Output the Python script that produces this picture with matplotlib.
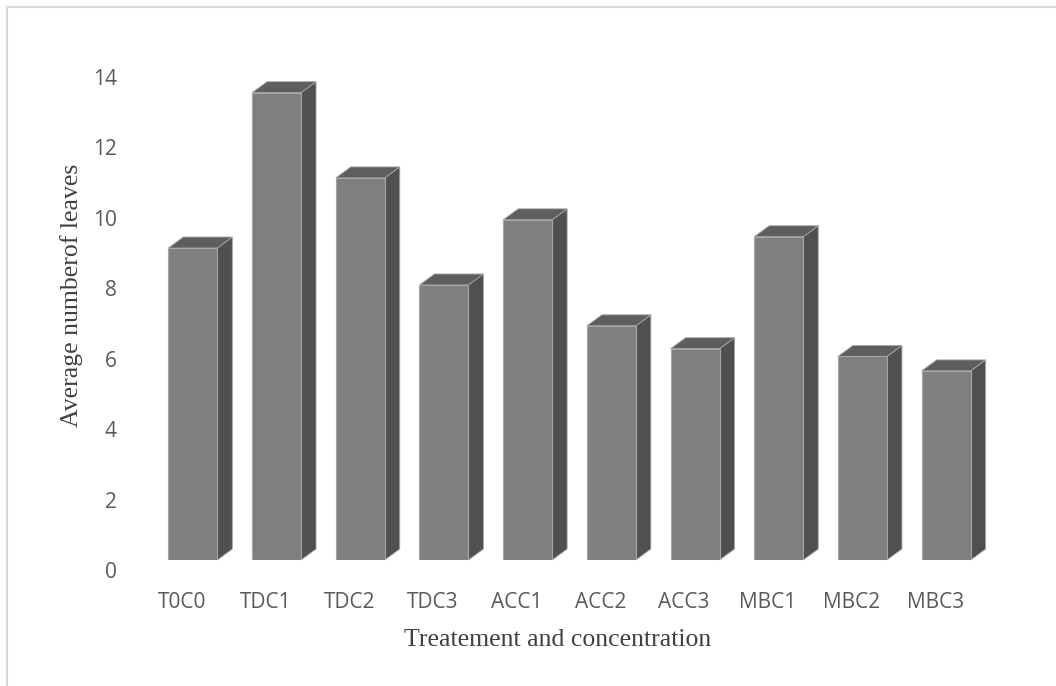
import numpy as np
import matplotlib.pyplot as plt
from matplotlib.patches import Polygon
from matplotlib.lines import Line2D
import matplotlib.transforms as mtransforms

categories = ['T0C0', 'TDC1', 'TDC2', 'TDC3', 'ACC1', 'ACC2', 'ACC3', 'MBC1', 'MBC2', 'MBC3']
leaves = [8.86, 13.27, 10.85, 7.81, 9.66, 6.65, 6.0, 9.18, 5.78, 5.37]
y_ticks = [0, 2, 4, 6, 8, 10, 12, 14]

W, H = 1056, 686
fig = plt.figure(figsize=(W / 100, H / 100), dpi=100)
ax = fig.add_axes([151 / W, 126 / H, 837 / W, 493 / H])
ax.set_xlim(-0.5, len(categories) - 0.5)
ax.set_ylim(0, 14)

front = '#7f7f7f'
side = '#505050'
top = '#5e5e5e'
edge = '#a6a6a6'
bw = 0.585

# depth of the fake 3d bars, in pixels -> data units
px_x = 837 / len(categories)
px_y = 493 / 14
dx = 15 / px_x
dy = 11 / px_y

x = np.arange(len(categories))
ax.bar(x, leaves, width=bw, color=front, edgecolor=edge, linewidth=0.8, zorder=3)
for xi, v in zip(x, leaves):
    r = xi + bw / 2
    l = xi - bw / 2
    ax.add_patch(Polygon([(r, 0), (r + dx, dy), (r + dx, v + dy), (r, v)],
                         closed=True, facecolor=side, edgecolor=edge, linewidth=0.6,
                         zorder=2, clip_on=False))
    ax.add_patch(Polygon([(l, v), (l + dx, v + dy), (r + dx, v + dy), (r, v)],
                         closed=True, facecolor=top, edgecolor=edge, linewidth=0.6,
                         zorder=2, clip_on=False))

for s in ax.spines.values():
    s.set_visible(False)

ax.set_xticks(x)
ax.set_xticklabels(categories, fontsize=15, color='#595959', family='Open Sans')
ax.set_yticks(y_ticks)
ax.set_yticklabels([str(t) for t in y_ticks], fontsize=15, color='#595959', family='Open Sans')
ax.tick_params(length=0)
ax.tick_params(axis='x', pad=23)
ax.tick_params(axis='y', pad=24.5)

offx = mtransforms.ScaledTranslation(-11 / 100, 0, fig.dpi_scale_trans)
for lab in ax.get_xticklabels():
    lab.set_transform(lab.get_transform() + offx)
offy = mtransforms.ScaledTranslation(0, -10 / 100, fig.dpi_scale_trans)
for lab in ax.get_yticklabels():
    lab.set_transform(lab.get_transform() + offy)

fig.text(558 / W, 1 - 640 / H, 'Treatement and concentration', ha='center', va='center',
         fontsize=18.5, family='Liberation Serif', color='#404040')
fig.text(72 / W, 1 - 295 / H, 'Average numberof leaves', ha='center', va='center',
         rotation=90, fontsize=18.5, family='Liberation Serif', color='#404040')

# chart area border
fig.add_artist(Line2D([7 / W, 1], [1 - 7 / H, 1 - 7 / H], color='#d9d9d9', linewidth=1.5))
fig.add_artist(Line2D([7 / W, 7 / W], [0, 1 - 7 / H], color='#d9d9d9', linewidth=1.5))

fig.savefig('out.png', dpi=100)
